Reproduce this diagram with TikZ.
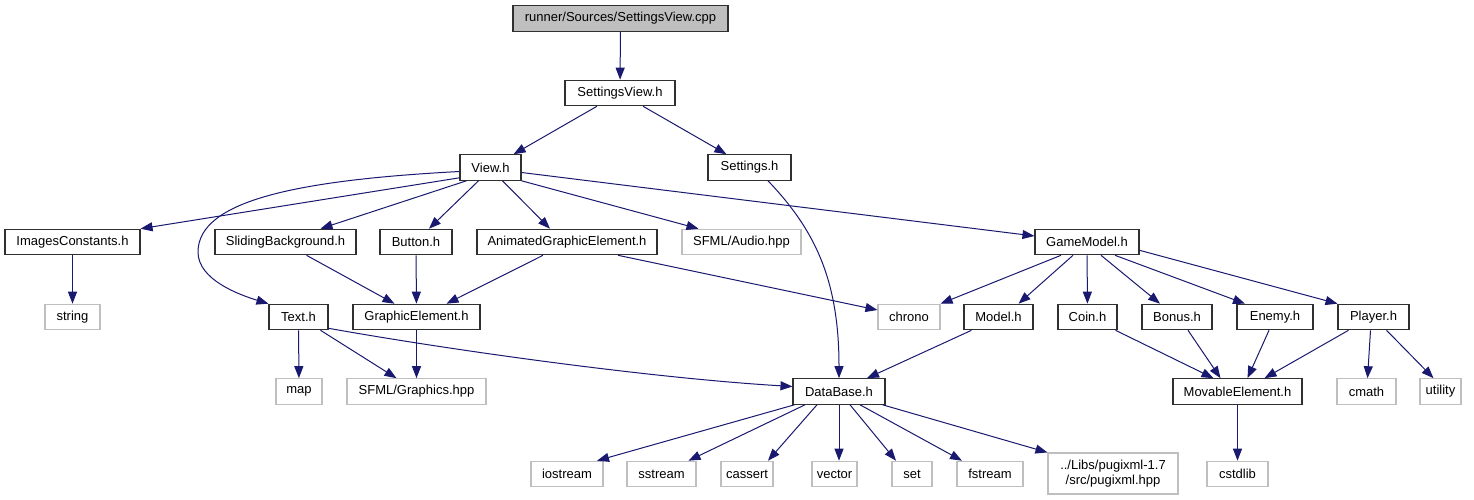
\documentclass[tikz,border=0pt]{standalone}
\usepackage{fontspec}
\setmainfont{Liberation Sans}
\usetikzlibrary{arrows.meta}
\definecolor{edgec}{HTML}{191970}
\definecolor{sysgray}{HTML}{BFBFBF}
\definecolor{boxborder}{HTML}{303030}
\begin{document}
\begin{tikzpicture}[x=1pt,y=-1pt,
  box/.style={draw=boxborder, line width=1.1pt, fill=white, minimum height=25.5pt, inner sep=0pt, text=black, font=\fontsize{13pt}{15pt}\selectfont},
  sysbox/.style={box, draw=sysgray},
  rootbox/.style={box, fill=sysgray},
  edge/.style={draw=edgec, line width=1pt, -{Triangle[length=12pt,width=9pt]}, fill=none}
]
\useasboundingbox[fill=white] (0,0) rectangle (1474,500);
% row 1-3
\node[rootbox, minimum width=215pt] (cpp) at (620.5,18.5) {runner/Sources/SettingsView.cpp};
\node[box, minimum width=110pt] (sv) at (620,93) {SettingsView.h};
\node[box, minimum width=61pt] (view) at (490.5,167.5) {View.h};
\node[box, minimum width=83pt] (settings) at (749.5,167.5) {Settings.h};
% row 4
\node[box, minimum width=135pt] (imgc) at (72.5,242) {ImagesConstants.h};
\node[box, minimum width=141pt] (slide) at (285.5,242) {SlidingBackground.h};
\node[box, minimum width=72pt] (button) at (416,242) {Button.h};
\node[box, minimum width=180pt] (anim) at (567,242) {AnimatedGraphicElement.h};
\node[sysbox, minimum width=119pt] (audio) at (741.5,242) {SFML/Audio.hpp};
\node[box, minimum width=104pt] (game) at (1087,242) {GameModel.h};
% row 5
\node[sysbox, minimum width=55pt] (string) at (72.5,317) {string};
\node[box, minimum width=59pt] (text) at (298.5,317) {Text.h};
\node[box, minimum width=127pt] (gel) at (416.5,317) {GraphicElement.h};
\node[sysbox, minimum width=62pt] (chrono) at (909,317) {chrono};
\node[box, minimum width=69pt] (model) at (998.5,317) {Model.h};
\node[box, minimum width=59pt] (coin) at (1087.5,317) {Coin.h};
\node[box, minimum width=70pt] (bonus) at (1177,317) {Bonus.h};
\node[box, minimum width=76pt] (enemy) at (1275,317) {Enemy.h};
\node[box, minimum width=71pt] (player) at (1373.5,317) {Player.h};
% row 6
\node[sysbox, minimum width=46pt] (map) at (299,391.5) {map};
\node[sysbox, minimum width=139pt] (gfx) at (416.5,391.5) {SFML/Graphics.hpp};
\node[box, minimum width=92pt] (db) at (839,391.5) {DataBase.h};
\node[box, minimum width=129pt] (mov) at (1237.5,391.5) {MovableElement.h};
\node[sysbox, minimum width=59pt] (cmath) at (1366.5,391.5) {cmath};
\node[sysbox, minimum width=41pt] (utility) at (1440.5,391.5) {utility};
% row 7
\node[sysbox, minimum width=72pt] (iostream) at (567,474) {iostream};
\node[sysbox, minimum width=69pt] (sstream) at (661.5,474) {sstream};
\node[sysbox, minimum width=52pt] (cassert) at (747,474) {cassert};
\node[sysbox, minimum width=45pt] (vector) at (834.5,474) {vector};
\node[sysbox, minimum width=40pt] (set) at (912,474) {set};
\node[sysbox, minimum width=66pt] (fstream) at (990,474) {fstream};
\node[sysbox, minimum width=130pt, minimum height=41pt, align=center] (pugi) at (1113,473.5) {../Libs/pugixml-1.7\\/src/pugixml.hpp};
\node[sysbox, minimum width=61pt] (cstdlib) at (1237.5,474) {cstdlib};

% edges
\draw[edge] (cpp) -- (sv);
\draw[edge] (sv) -- (view);
\draw[edge] (sv) -- (settings);
\draw[edge] ([yshift=3pt]view.south west) -- (imgc.north east);
\draw[edge] ([yshift=-4pt]view.west) .. controls (300,180) and (198,200) .. (198,252) .. controls (198,280) and (240,295) .. (text.north west);
\draw[edge] ([xshift=7pt]view.south west) -- ([xshift=35pt]slide.north);
\draw[edge] ([xshift=-12pt]view.south) -- ([xshift=13pt]button.north);
\draw[edge] ([xshift=12pt]view.south) -- ([xshift=-17pt]anim.north);
\draw[edge] (view.south east) -- ([xshift=-43pt]audio.north);
\draw[edge] ([yshift=-5pt]view.east) -- ([yshift=6pt]game.west);
\draw[edge] ([xshift=18.5pt]settings.south) .. controls (815,230) and (839,280) .. (db.north);
\draw[edge] (imgc) -- (string);
\draw[edge] ([xshift=21pt]slide.south) -- ([xshift=-22pt]gel.north);
\draw[edge] (button) -- (gel);
\draw[edge] ([xshift=-24pt]anim.south) -- ([xshift=30pt]gel.north);
\draw[edge] ([xshift=51pt]anim.south) -- ([yshift=7pt]chrono.west);
\draw[edge] ([xshift=-26pt]game.south) -- (chrono.north east);
\draw[edge] ([xshift=-14pt]game.south) -- ([xshift=20pt]model.north);
\draw[edge] (game) -- (coin);
\draw[edge] ([xshift=14pt]game.south) -- ([xshift=-17pt]bonus.north);
\draw[edge] ([xshift=28pt]game.south) -- ([xshift=-30pt]enemy.north);
\draw[edge] ([yshift=5pt]game.south east) -- ([xshift=-36pt]player.north);
\draw[edge] (text) -- (map);
\draw[edge] ([xshift=22pt]text.south) -- ([xshift=-20pt]gfx.north);
\draw[edge] (gel) -- (gfx);
\draw[edge] ([yshift=2pt]text.south east) .. controls (450,350) and (650,378) .. ([yshift=5pt]db.west);
\draw[edge] ([xshift=-27pt]model.south) -- ([xshift=28pt]db.north);
\draw[edge] ([xshift=28pt]coin.south) -- ([xshift=-24pt]mov.north);
\draw[edge] ([xshift=11pt]bonus.south) -- ([xshift=-17pt]mov.north);
\draw[edge] ([xshift=-6pt]enemy.south) -- ([xshift=10pt]mov.north);
\draw[edge] ([xshift=-25pt]player.south) -- ([xshift=27pt]mov.north);
\draw[edge] ([xshift=-3pt]player.south) -- ([xshift=1pt]cmath.north);
\draw[edge] ([xshift=13pt]player.south) -- ([xshift=-7pt]utility.north);
\draw[edge] (mov) -- (cstdlib);
\draw[edge] ([xshift=2pt]db.south west) -- ([xshift=30pt]iostream.north);
\draw[edge] ([xshift=-34pt]db.south) -- ([xshift=27pt]sstream.north);
\draw[edge] ([xshift=-22pt]db.south) -- ([xshift=21pt]cassert.north);
\draw[edge] (db.south) -- ([xshift=4.5pt]vector.north);
\draw[edge] ([xshift=11pt]db.south) -- ([xshift=-16pt]set.north);
\draw[edge] ([xshift=21pt]db.south) -- ([xshift=-28pt]fstream.north);
\draw[edge] ([xshift=-3pt]db.south east) -- (pugi.north west);
\end{tikzpicture}
\end{document}
